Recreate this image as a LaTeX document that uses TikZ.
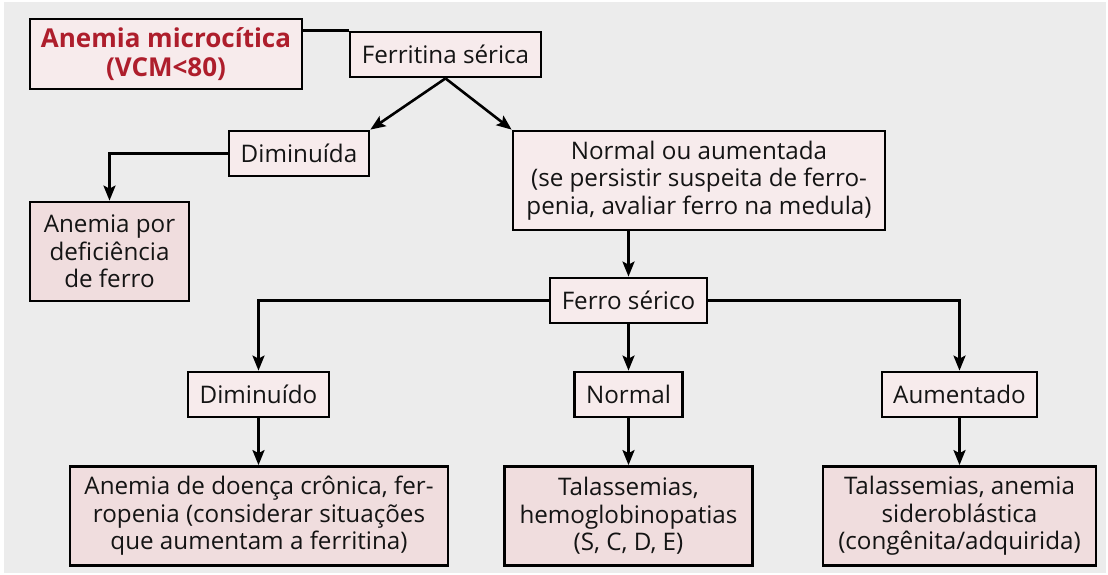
\documentclass[tikz,border=0pt]{standalone}
\usepackage{fontspec}
\setmainfont{Open Sans}
\usetikzlibrary{arrows.meta}
\definecolor{bggray}{RGB}{236,236,236}
\definecolor{qfill}{RGB}{247,235,236}
\definecolor{rfill}{RGB}{240,221,222}
\definecolor{titlered}{RGB}{174,30,44}
\definecolor{txt}{RGB}{20,20,20}
\tikzset{
  box/.style={draw=black, line width=2.8pt, fill=qfill, align=center, inner sep=0pt,
    font=\fontsize{24.2}{27.5}\selectfont, text=txt},
  resbox/.style={box, fill=rfill},
  conn/.style={line width=2.6pt, line join=miter},
  arr/.style={conn, -{Stealth[length=15pt,width=12pt,inset=3pt]}},
}
\begin{document}
\begin{tikzpicture}[x=1pt,y=-1pt]
\useasboundingbox (0,0) rectangle (1108,575);
\fill[bggray] (4,2) rectangle (1106,573);

\node[box, minimum width=272pt, minimum height=70pt, text=titlered, font=\fontsize{26}{28.5}\selectfont\bfseries]
  (anemia) at (166,54) {Anemia microcítica\\(VCM<80)};
\node[box, minimum width=191pt, minimum height=45pt] (fer) at (445.5,54.5) {Ferritina sérica};
\node[box, minimum width=140pt, minimum height=45pt] (dimin) at (299,153.5) {Diminuída};
\node[box, minimum width=372pt, minimum height=99pt] (normaum) at (699,180.5)
  {Normal ou aumentada\\(se persistir suspeita de ferro-\\penia, avaliar ferro na medula)};
\node[resbox, minimum width=159pt, minimum height=99pt] (defic) at (109.5,251.5)
  {Anemia por\\deficiência\\de ferro};
\node[box, minimum width=157pt, minimum height=45pt] (ferro) at (628.5,300.5) {Ferro sérico};
\node[box, minimum width=141pt, minimum height=45pt] (dimo) at (258.5,394.5) {Diminuído};
\node[box, minimum width=108pt, minimum height=45pt] (normal) at (628.5,394.5) {Normal};
\node[box, minimum width=155pt, minimum height=45pt] (aum) at (959.5,394.5) {Aumentado};
\node[resbox, minimum width=378pt, minimum height=99pt] (res1) at (259,516)
  {Anemia de doença crônica, fer-\\ropenia (considerar situações\\que aumentam a ferritina)};
\node[resbox, minimum width=248pt, minimum height=99pt] (res2) at (628.5,516)
  {Talassemias,\\hemoglobinopatias\\(S, C, D, E)};
\node[resbox, minimum width=273pt, minimum height=99pt] (res3) at (959.5,516)
  {Talassemias, anemia\\sideroblástica\\(congênita/adquirida)};

\draw[conn] (anemia.east |- fer.north west) -- (fer.north west);
\draw[arr] (fer.south) -- (dimin.north east);
\draw[arr] (fer.south) -- (normaum.north west);
\draw[arr] (dimin.west) -| (defic.north);
\draw[arr] (ferro.north |- normaum.south) -- (ferro.north);
\draw[arr] (ferro.west) -| (dimo.north);
\draw[arr] (ferro.south) -- (normal.north);
\draw[arr] (ferro.east) -| (aum.north);
\draw[arr] (dimo.south) -- (dimo.south |- res1.north);
\draw[arr] (normal.south) -- (res2.north);
\draw[arr] (aum.south) -- (res3.north);
\end{tikzpicture}
\end{document}
